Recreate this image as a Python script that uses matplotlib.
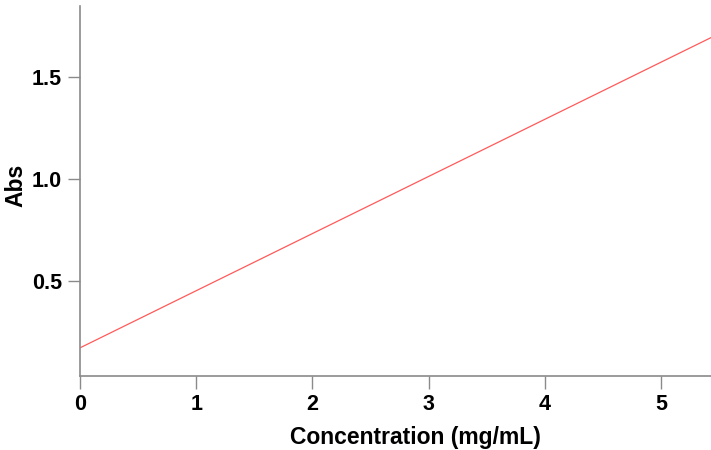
import matplotlib.pyplot as plt

conc = [0.0, 5.43]
absorb = [0.172, 1.693]
xticks = [0, 1, 2, 3, 4, 5]
yticks = [0.5, 1.0, 1.5]

plt.rcParams['font.family'] = ['Liberation Sans', 'DejaVu Sans']
plt.rcParams['font.weight'] = 'bold'

fig = plt.figure(figsize=(7.11, 4.5), dpi=100)
ax = fig.add_axes([80 / 711, 74 / 450, 631 / 711, 370 / 450])

ax.plot(conc, absorb, color='#ff5a5a', linewidth=0.9)

ax.set_xlim(0, 5.43)
ax.set_ylim(0.034, 1.848)
ax.set_xticks(xticks)
ax.set_yticks(yticks)
ax.set_yticklabels([f"{v:.1f}" for v in yticks])

for s in ['top', 'right']:
    ax.spines[s].set_visible(False)
for s in ['left', 'bottom']:
    ax.spines[s].set_color('#8a8a8a')
    ax.spines[s].set_linewidth(1.2)
ax.tick_params(length=9, width=1, color='#8a8a8a', labelsize=15.5, pad=4)

ax.set_xlabel("Concentration (mg/mL)", fontsize=16.5, fontweight='bold')
ax.xaxis.set_label_coords(0.532, -0.135)
ax.set_ylabel("Abs", fontsize=16.5, fontweight='bold')
# anchor is the right edge of the rotated label
ax.yaxis.set_label_coords(-0.084, 0.516)

fig.savefig("out.png", dpi=100)
